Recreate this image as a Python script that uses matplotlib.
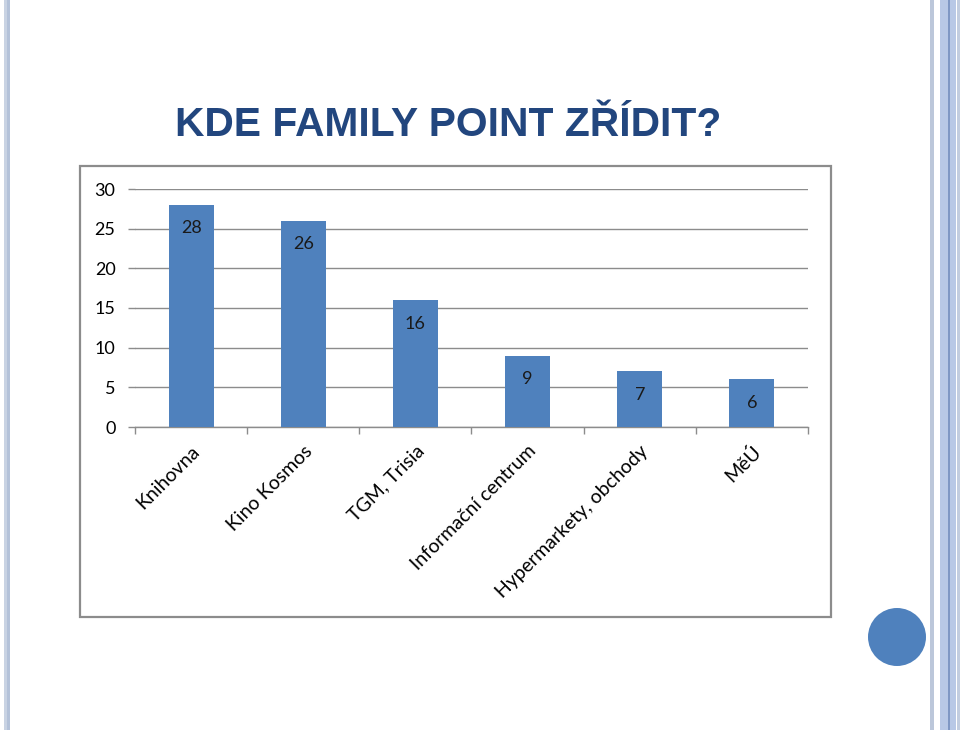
import matplotlib
matplotlib.use("Agg")
import matplotlib.pyplot as plt
from matplotlib.patches import Rectangle, Ellipse

categories = ["Knihovna", "Kino Kosmos", "TGM, Trisia", "Informační centrum",
              "Hypermarkety, obchody", "MěÚ"]
values = [28, 26, 16, 9, 7, 6]
yticks = [0, 5, 10, 15, 20, 25, 30]
title = "KDE FAMILY POINT ZŘÍDIT?"

W, H = 960, 730
fig = plt.figure(figsize=(9.6, 7.3), dpi=100)
fig.patch.set_facecolor("white")

def fx(px):
    return px / W

def fy(py):
    return 1 - py / H

# decorative slide stripes
stripes = [
    (4, 3, "#c9d3e3"), (7, 3, "#b4c2d9"),
    (930, 4, "#bcc7da"), (940, 8, "#b8c8e6"), (948, 1.5, "#7f97c4"),
    (949.5, 6, "#b8c8e6"), (957, 3, "#c2cde0"),
]
for x0, w, c in stripes:
    fig.patches.append(Rectangle((fx(x0), 0), w / W, 1, transform=fig.transFigure,
                                 facecolor=c, edgecolor="none", zorder=0))

# circle bottom right
fig.patches.append(Ellipse((fx(897), fy(637)), 58 / W, 58 / H, transform=fig.transFigure,
                           facecolor="#4f81bd", edgecolor="none", zorder=1))

# chart box
fig.patches.append(Rectangle((fx(80), fy(617)), 751 / W, 451 / H, transform=fig.transFigure,
                             facecolor="white", edgecolor="#8c8c8c", linewidth=1.6, zorder=1))

# title
fig.text(fx(175), fy(136), title, fontsize=29.3, fontweight="bold",
         family="Liberation Sans", color="#22467e", ha="left", va="baseline")

ax = fig.add_axes([fx(135), fy(427), 673 / W, 238 / H])
ax.set_zorder(3)
ax.set_facecolor("none")
xs = list(range(len(categories)))
bars = ax.bar(xs, values, width=0.4, color="#4f81bd", zorder=3)
for x, v in zip(xs, values):
    ax.annotate(str(v), (x, v), xytext=(0, -17), textcoords="offset points",
                ha="center", va="center", fontsize=13, family="Lato", color="#1a1a1a", zorder=4)

ax.set_xlim(-0.5, len(categories) - 0.5)
ax.set_ylim(0, 30)
ax.set_yticks(yticks)
ax.set_yticklabels([str(t) for t in yticks], family="Lato", fontsize=13)
ax.yaxis.grid(True, color="#8c8c8c", linewidth=1.0, zorder=0)
ax.tick_params(axis="y", length=5, width=1.0, color="#8c8c8c", pad=9)

ax.set_xticks([x - 0.5 for x in xs] + [len(categories) - 0.5])
ax.set_xticklabels([""] * (len(categories) + 1))
ax.tick_params(axis="x", length=5, width=1.0, color="#8c8c8c")
ax.set_xticks(xs, minor=True)
ax.set_xticklabels(categories, minor=True, rotation=45, ha="right", va="top",
                   rotation_mode="anchor", family="Lato", fontsize=14)
ax.tick_params(axis="x", which="minor", length=0, pad=11)

for s in ["top", "right", "left"]:
    ax.spines[s].set_visible(False)
ax.spines["bottom"].set_color("#8c8c8c")
ax.spines["bottom"].set_linewidth(1.0)

fig.savefig("out.png", dpi=100)
